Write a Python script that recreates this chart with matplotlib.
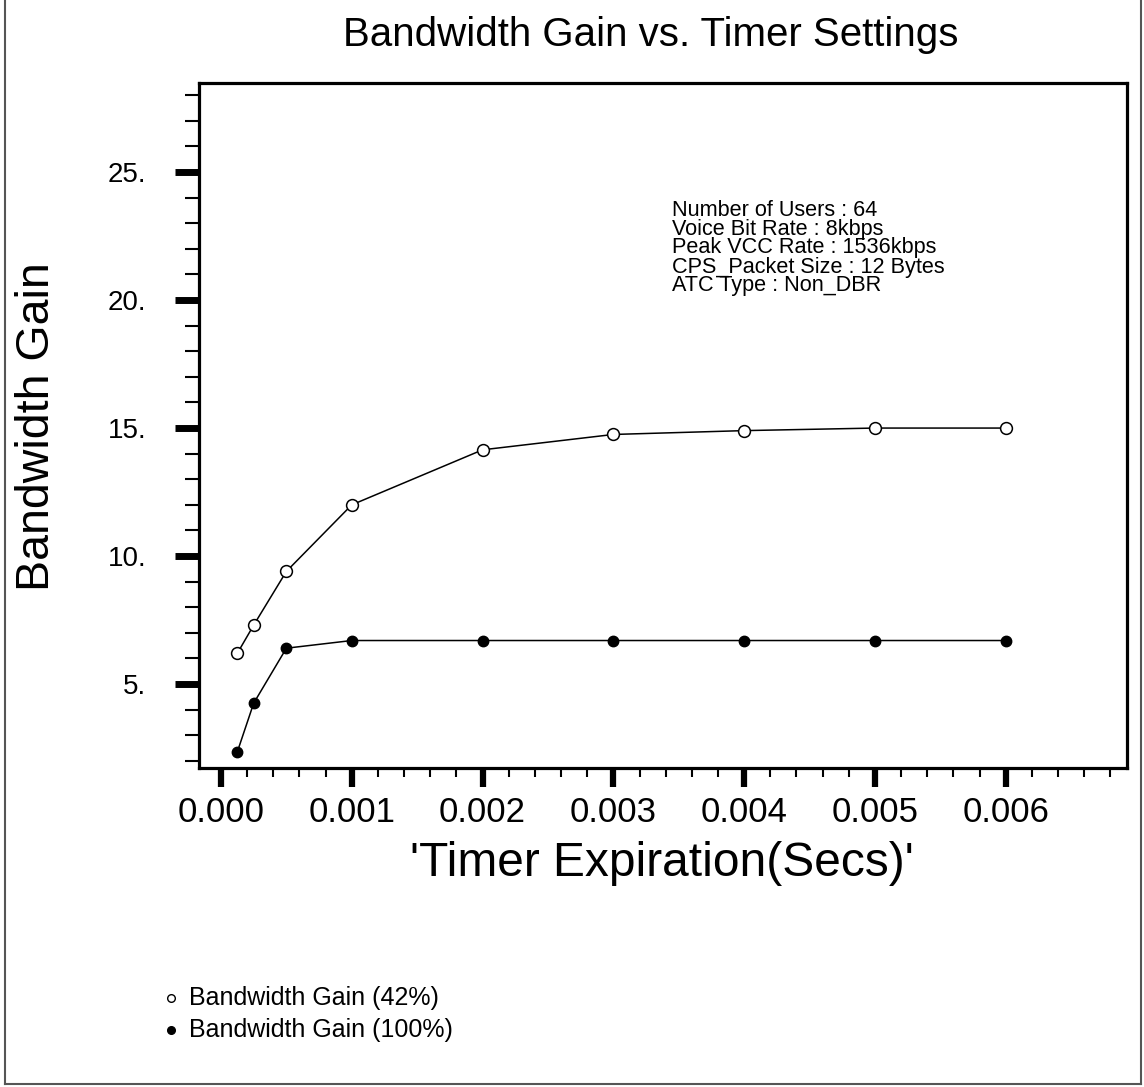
import numpy as np
import matplotlib
matplotlib.use('Agg')
import matplotlib.pyplot as plt
from matplotlib.lines import Line2D
from matplotlib.ticker import MultipleLocator, FuncFormatter

# Timer expiration values (secs) and bandwidth gains
timer = [0.000125, 0.00025, 0.0005, 0.001, 0.002, 0.003, 0.004, 0.005, 0.006]
gain_42 = [6.2, 7.3, 9.4, 12.0, 14.15, 14.75, 14.9, 15.0, 15.0]
gain_100 = [2.35, 4.25, 6.4, 6.7, 6.7, 6.7, 6.7, 6.7, 6.7]
series_labels = ['Bandwidth Gain (42%)', 'Bandwidth Gain (100%)']
info_lines = ['Number of Users : 64',
              'Voice Bit Rate : 8kbps',
              'Peak VCC Rate : 1536kbps',
              'CPS_Packet Size : 12 Bytes',
              'ATC Type : Non_DBR']

plt.rcParams['font.family'] = ['Liberation Sans', 'DejaVu Sans']

W, H = 1144, 1087
fig = plt.figure(figsize=(W / 100, H / 100), dpi=100)
ax = fig.add_axes([199 / W, 1 - 768 / H, (1127 - 199) / W, (768 - 83) / H])

ax.plot(timer, gain_42, color='black', lw=1.1, marker='o', ms=8.5,
        mfc='white', mec='black', mew=1.1)
ax.plot(timer, gain_100, color='black', lw=1.1, marker='o', ms=7.5,
        mfc='black', mec='black')

ax.set_xlim(-0.000168, 0.006927)
ax.set_ylim(1.72, 28.48)

for s in ax.spines.values():
    s.set_linewidth(2.3)

ax.xaxis.set_major_locator(MultipleLocator(0.001))
ax.xaxis.set_minor_locator(MultipleLocator(0.0002))
ax.yaxis.set_major_locator(MultipleLocator(5))
ax.yaxis.set_minor_locator(MultipleLocator(1))
ax.xaxis.set_major_formatter(FuncFormatter(lambda v, p: f"{v:.3f}"))
ax.yaxis.set_major_formatter(FuncFormatter(lambda v, p: f"{int(round(v))}."))

ax.tick_params(axis='x', which='major', direction='out', length=14, width=4.5,
               labelsize=25, pad=6)
ax.tick_params(axis='x', which='minor', direction='out', length=6.5, width=1.5)
ax.tick_params(axis='y', which='major', direction='out', length=17, width=5,
               labelsize=20, pad=21)
ax.tick_params(axis='y', which='minor', direction='out', length=10, width=1.5)

# text block with run parameters
for i, line in enumerate(info_lines):
    fig.text(672 / W, 1 - (210 + 19 * i) / H, line, fontsize=15.6,
             ha='left', va='center')

fig.text(651 / W, 1 - 35 / H, 'Bandwidth Gain vs. Timer Settings',
         fontsize=29, ha='center', va='center')
fig.text(37 / W, 1 - 427 / H, 'Bandwidth Gain', fontsize=33.5,
         rotation=90, ha='center', va='center')
fig.text(662 / W, 1 - 864 / H, "'Timer Expiration(Secs)'", fontsize=34.5,
         ha='center', va='center')

# legend below the plot
markers = [dict(mfc='white'), dict(mfc='black')]
for i, (m, lab) in enumerate(zip(markers, series_labels)):
    y = 1 - (998 + 32 * i) / H
    fig.add_artist(Line2D([171 / W], [y], ls='none', marker='o', ms=5.5,
                          mec='black', mew=1, **m))
    fig.text(189 / W, y, lab, fontsize=18, ha='left', va='center')

# outer border of the page
for xs, ys in [([5, 5], [0, 1084]), ([5, 1141], [1084, 1084]), ([1141, 1141], [0, 1084])]:
    fig.add_artist(Line2D([x / W for x in xs], [1 - y / H for y in ys],
                          color='#555555', lw=1.5))

fig.savefig('out.png', dpi=100)
